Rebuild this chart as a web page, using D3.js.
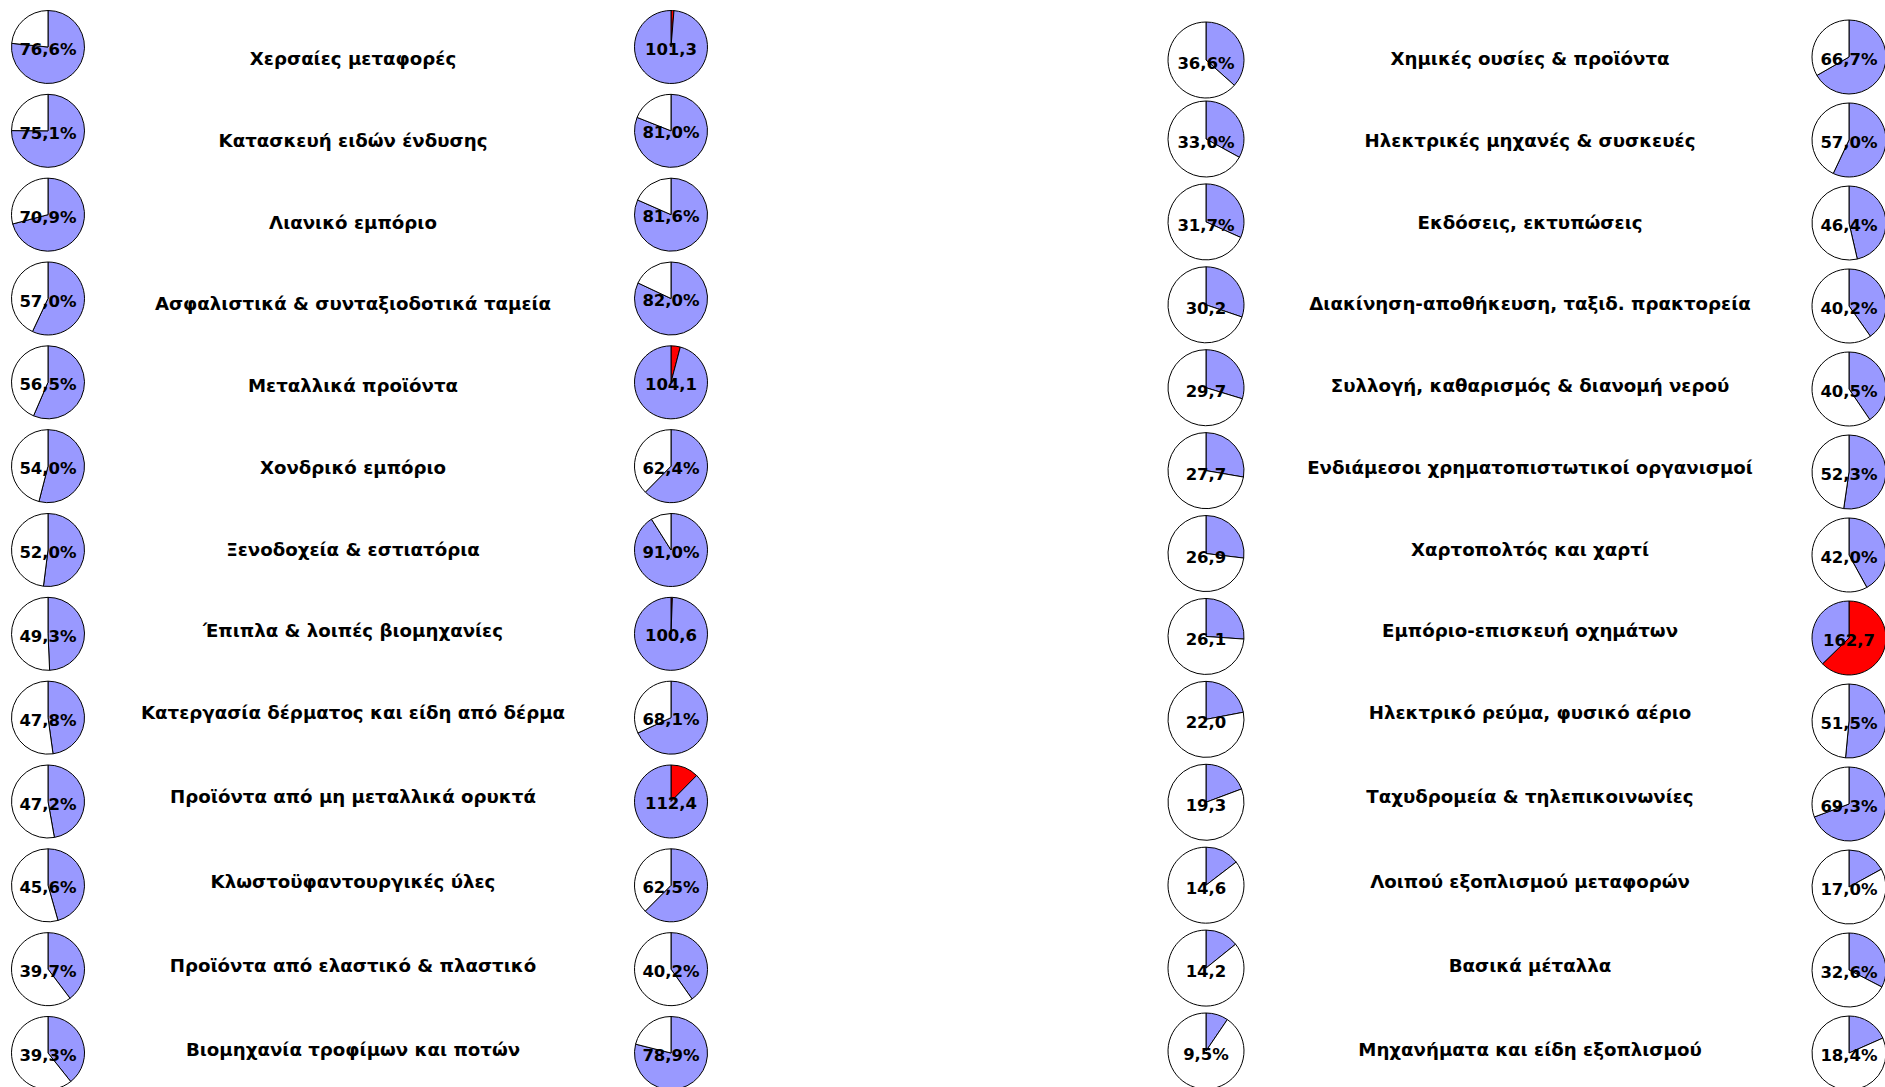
<!DOCTYPE html>
<html lang="el">
<head>
<meta charset="utf-8">
<title>Κλάδοι – δείκτες</title>
<script src="https://cdn.jsdelivr.net/npm/d3@7"></script>
<style>
  html, body { margin: 0; padding: 0; background: #ffffff; }
  svg { display: block; }
  text { font-family: "DejaVu Sans", Verdana, sans-serif; font-weight: bold; fill: #000; }
</style>
</head>
<body>
<svg id="chart" width="1885" height="1087"></svg>
<script>
// Sectors, left block (top to bottom)
const leftSectors = [
  "Χερσαίες μεταφορές",
  "Κατασκευή ειδών ένδυσης",
  "Λιανικό εμπόριο",
  "Ασφαλιστικά & συνταξιοδοτικά ταμεία",
  "Μεταλλικά προϊόντα",
  "Χονδρικό εμπόριο",
  "Ξενοδοχεία & εστιατόρια",
  "Έπιπλα & λοιπές βιομηχανίες",
  "Κατεργασία δέρματος και είδη από δέρμα",
  "Προϊόντα από μη μεταλλικά ορυκτά",
  "Κλωστοϋφαντουργικές ύλες",
  "Προϊόντα από ελαστικό & πλαστικό",
  "Βιομηχανία τροφίμων και ποτών"
];
const leftFirst  = [76.6, 75.1, 70.9, 57.0, 56.5, 54.0, 52.0, 49.3, 47.8, 47.2, 45.6, 39.7, 39.3];
const leftSecond = [101.3, 81.0, 81.6, 82.0, 104.1, 62.4, 91.0, 100.6, 68.1, 112.4, 62.5, 40.2, 78.9];

// Sectors, right block (top to bottom)
const rightSectors = [
  "Χημικές ουσίες & προϊόντα",
  "Ηλεκτρικές μηχανές & συσκευές",
  "Εκδόσεις, εκτυπώσεις",
  "Διακίνηση-αποθήκευση, ταξιδ. πρακτορεία",
  "Συλλογή, καθαρισμός & διανομή νερού",
  "Ενδιάμεσοι χρηματοπιστωτικοί οργανισμοί",
  "Χαρτοπολτός και χαρτί",
  "Εμπόριο-επισκευή οχημάτων",
  "Ηλεκτρικό ρεύμα, φυσικό αέριο",
  "Ταχυδρομεία & τηλεπικοινωνίες",
  "Λοιπού εξοπλισμού μεταφορών",
  "Βασικά μέταλλα",
  "Μηχανήματα και είδη εξοπλισμού"
];
const rightFirst  = [36.6, 33.0, 31.7, 30.2, 29.7, 27.7, 26.9, 26.1, 22.0, 19.3, 14.6, 14.2, 9.5];
const rightSecond = [66.7, 57.0, 46.4, 40.2, 40.5, 52.3, 42.0, 162.7, 51.5, 69.3, 17.0, 32.6, 18.4];

// Whether each value label carries a "%" sign
const leftFirstPct   = [true, true, true, true, true, true, true, true, true, true, true, true, true];
const leftSecondPct  = [false, true, true, true, false, true, true, false, true, false, true, true, true];
const rightFirstPct  = [true, true, true, false, false, false, false, false, false, false, false, false, true];
const rightSecondPct = [true, true, true, true, true, true, true, false, true, true, true, true, true];

const COLORS = { share: "#9999ff", rest: "#ffffff", over: "#ff0000" };

const svg = d3.select("#chart");
const rows = d3.range(13);

// Row positions
const yPieLeft   = d3.scalePoint().domain(rows).range([47, 1053]);
const yPieRight3 = d3.scaleLinear().domain([0, 1, 12]).range([60, 139, 1051]);
const yPieRight4 = d3.scaleLinear().domain([0, 1, 12]).range([57, 140, 1053]);
const yText      = d3.scaleLinear().domain([0, 8, 12]).range([65, 719, 1056]);

// Angle scale: 100 units make a full turn
const angle = d3.scaleLinear().domain([0, 100]).range([0, 2 * Math.PI]);

const fmt = d3.format(".1f");
const labelOf = (v, pct) => fmt(v).replace(".", ",") + (pct ? "%" : "");

// Split a value into pie slices: up to 100 -> share + remainder,
// above 100 -> full circle with the excess shown in red from 12 o'clock.
function slicesFor(v) {
  if (v <= 100) {
    return [
      { a0: 0, a1: v, color: COLORS.share },
      { a0: v, a1: 100, color: COLORS.rest }
    ];
  }
  const over = v - 100;
  return [
    { a0: 0, a1: over, color: COLORS.over },
    { a0: over, a1: 100, color: COLORS.share }
  ];
}

function drawPieColumn(values, pcts, cx, yScale, r, labelDy) {
  const arc = d3.arc().innerRadius(0).outerRadius(r);
  const g = svg.append("g");
  const cells = g.selectAll("g.cell")
    .data(values.map((v, i) => ({ v, i, pct: pcts[i] })))
    .join("g")
    .attr("class", "cell")
    .attr("transform", d => `translate(${cx},${yScale(d.i)})`);

  cells.selectAll("path")
    .data(d => slicesFor(d.v))
    .join("path")
    .attr("d", s => arc({ startAngle: angle(s.a0), endAngle: angle(s.a1) }))
    .attr("fill", s => s.color)
    .attr("stroke", "#000")
    .attr("stroke-width", 1)
    .attr("stroke-linejoin", "round");

  cells.append("text")
    .attr("text-anchor", "middle")
    .attr("y", labelDy)
    .style("font-size", "16.5px")
    .text(d => labelOf(d.v, d.pct));
}

function drawNames(names, cx) {
  svg.append("g").selectAll("text")
    .data(names)
    .join("text")
    .attr("x", cx)
    .attr("y", (d, i) => yText(i))
    .attr("text-anchor", "middle")
    .style("font-size", "18.2px")
    .text(d => d);
}

drawPieColumn(leftFirst, leftFirstPct, 48, yPieLeft, 36.5, 8);
drawPieColumn(leftSecond, leftSecondPct, 671, yPieLeft, 36.5, 7.5);
drawNames(leftSectors, 353);

drawPieColumn(rightFirst, rightFirstPct, 1206, yPieRight3, 38, 9);
drawPieColumn(rightSecond, rightSecondPct, 1849, yPieRight4, 37, 8);
drawNames(rightSectors, 1530);
</script>
</body>
</html>
